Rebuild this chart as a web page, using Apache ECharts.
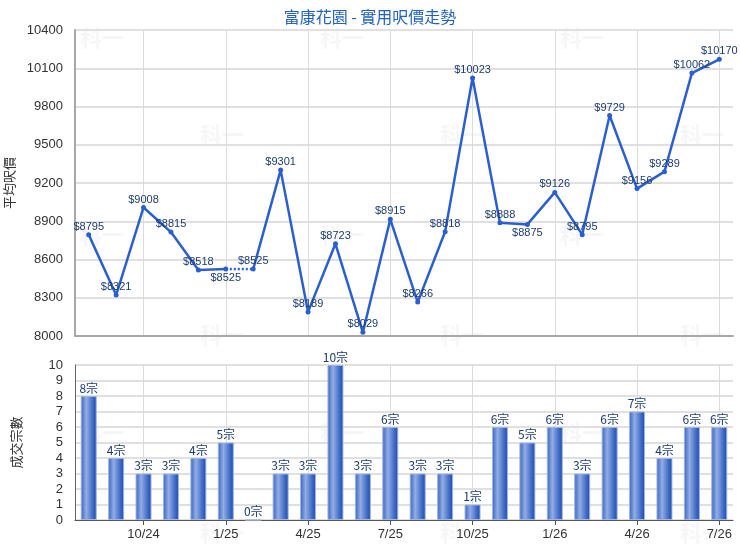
<!DOCTYPE html>
<html>
<head>
<meta charset="utf-8">
<script src="https://cdn.jsdelivr.net/npm/echarts@6/dist/echarts.min.js"></script>
<style>html,body{margin:0;padding:0;background:#fff}#c{width:740px;height:550px}</style>
</head>
<body>
<div id="c"></div>
<script>
var months = ['8/24','9/24','10/24','11/24','12/24','1/25','2/25','3/25','4/25','5/25','6/25','7/25','8/25','9/25','10/25','11/25','12/25','1/26','2/26','3/26','4/26','5/26','6/26','7/26'];
var prices = [8795,8321,9008,8815,8518,8525,8525,9301,8189,8723,8029,8915,8266,8818,10023,8888,8875,9126,8795,9729,9156,9289,10062,10170];
var deals = [8,4,3,3,4,5,0,3,3,10,3,6,3,3,1,6,5,6,3,6,7,4,6,6];
var priceTicks = {min: 8000, max: 10400, step: 300};
var dealTicks = {min: 0, max: 10, step: 1};
var belowIdx = [5, 16];
var dottedFrom = 5; // segment from index 5 to 6 is dotted (no deals in 2/25)

var lineColor = '#2b5fcf';
var labelColor = '#1c3c6e';

function part(a, b) {
  return prices.map(function (v, i) {
    return (i >= a && i <= b) ? v : null;
  });
}
function withLabels(arr) {
  return arr.map(function (v, i) {
    if (v === null) return null;
    var below = belowIdx.indexOf(i) >= 0;
    return {value: v, label: {position: below ? 'bottom' : 'top', distance: below ? 1 : 0}};
  });
}
var seg1 = withLabels(part(0, dottedFrom));
var seg2 = withLabels(part(dottedFrom + 1, prices.length - 1));
var segDot = part(dottedFrom, dottedFrom + 1);

var marks = [];
var wm = [[80,38],[320,38],[560,38],[200,135],[440,135],[680,135],[80,235],[320,235],[560,235],[200,335],[440,335],[680,335],[80,433],[320,433],[560,433],[200,533],[440,533],[680,533]];
wm.forEach(function (p) {
  marks.push({type: 'text', left: p[0], top: p[1] - 11, z: 0, silent: true,
    style: {text: '科一', fill: 'rgba(200,200,200,0.16)', font: 'bold 22px "Noto Sans CJK TC"'}});
});

var qInterval = function (idx) { return idx % 3 === 2; };
var splitL = {show: true, interval: qInterval, alignWithLabel: true, lineStyle: {color: '#dcdcdc', width: 1}};
var plain = function (v) { return String(v); };

var chart = echarts.init(document.getElementById('c'));
chart.setOption({
  animation: false,
  title: {text: '富康花園 - 實用呎價走勢', left: 'center', top: 4,
    textStyle: {color: '#2160c4', fontSize: 16, fontWeight: 'normal', fontFamily: '"Noto Sans CJK TC"'}},
  graphic: marks,
  grid: [
    {left: 75, right: 7, top: 30, height: 306, outerBoundsMode: 'none', containLabel: false},
    {left: 75, right: 7, top: 365, height: 155, outerBoundsMode: 'none', containLabel: false}
  ],
  xAxis: [
    {type: 'category', gridIndex: 0, data: months, boundaryGap: true,
      axisLine: {lineStyle: {color: '#a8a8a8', width: 2}}, axisTick: {show: false}, axisLabel: {show: false},
      splitLine: splitL},
    {type: 'category', gridIndex: 1, data: months, boundaryGap: true,
      axisLine: {lineStyle: {color: '#555', width: 1}},
      axisTick: {show: true, interval: qInterval, alignWithLabel: true, length: 5, lineStyle: {color: '#555'}},
      axisLabel: {interval: qInterval, color: '#333', fontSize: 13, fontFamily: 'Liberation Sans', margin: 8},
      splitLine: splitL}
  ],
  yAxis: [
    {type: 'value', gridIndex: 0, min: priceTicks.min, max: priceTicks.max, interval: priceTicks.step,
      name: '平均呎價', nameLocation: 'middle', nameGap: 52, nameRotate: 90,
      nameTextStyle: {color: '#333', fontSize: 13, fontFamily: '"Noto Sans CJK TC"'},
      axisLine: {show: true, lineStyle: {color: '#a8a8a8', width: 2}}, axisTick: {show: false},
      axisLabel: {color: '#333', fontSize: 13, fontFamily: 'Liberation Sans', margin: 12, formatter: plain},
      splitLine: {lineStyle: {color: '#e0e0e0', width: 2}}},
    {type: 'value', gridIndex: 1, min: dealTicks.min, max: dealTicks.max, interval: dealTicks.step,
      name: '成交宗數', nameLocation: 'middle', nameGap: 52, nameRotate: 90,
      nameTextStyle: {color: '#333', fontSize: 13, fontFamily: '"Noto Sans CJK TC"'},
      axisLine: {show: true, lineStyle: {color: '#666', width: 1}}, axisTick: {show: false},
      axisLabel: {color: '#333', fontSize: 13, fontFamily: 'Liberation Sans', margin: 12, formatter: plain},
      splitLine: {lineStyle: {color: '#e0e0e0', width: 2}}}
  ],
  series: [
    {type: 'line', xAxisIndex: 0, yAxisIndex: 0, data: seg1, connectNulls: false,
      symbol: 'circle', symbolSize: 5, itemStyle: {color: lineColor}, lineStyle: {color: lineColor, width: 2.5},
      label: {show: true, color: labelColor, fontSize: 11, fontFamily: 'Liberation Sans', formatter: function (p) { return '$' + p.value; }},
      z: 3},
    {type: 'line', xAxisIndex: 0, yAxisIndex: 0, data: segDot, connectNulls: false,
      symbol: 'none', lineStyle: {color: lineColor, width: 2.5, type: [2, 2]}, z: 2},
    {type: 'line', xAxisIndex: 0, yAxisIndex: 0, data: seg2, connectNulls: false,
      symbol: 'circle', symbolSize: 5, itemStyle: {color: lineColor}, lineStyle: {color: lineColor, width: 2.5},
      label: {show: true, color: labelColor, fontSize: 11, fontFamily: 'Liberation Sans', formatter: function (p) { return '$' + p.value; }},
      z: 3},
    {type: 'bar', xAxisIndex: 1, yAxisIndex: 1, data: deals, barWidth: 16,
      itemStyle: {
        color: new echarts.graphic.LinearGradient(0, 0, 1, 0, [
          {offset: 0, color: '#3561be'}, {offset: 0.35, color: '#93ade4'}, {offset: 0.7, color: '#4a74cc'}, {offset: 1, color: '#1c48a6'}
        ]),
        borderColor: '#9fb6e6', borderWidth: 1
      },
      label: {show: true, position: 'top', distance: 2, color: labelColor, fontSize: 12, fontFamily: '"Noto Sans CJK TC"',
        formatter: function (p) { return p.value + '宗'; }},
      z: 3}
  ]
});
</script>
</body>
</html>
